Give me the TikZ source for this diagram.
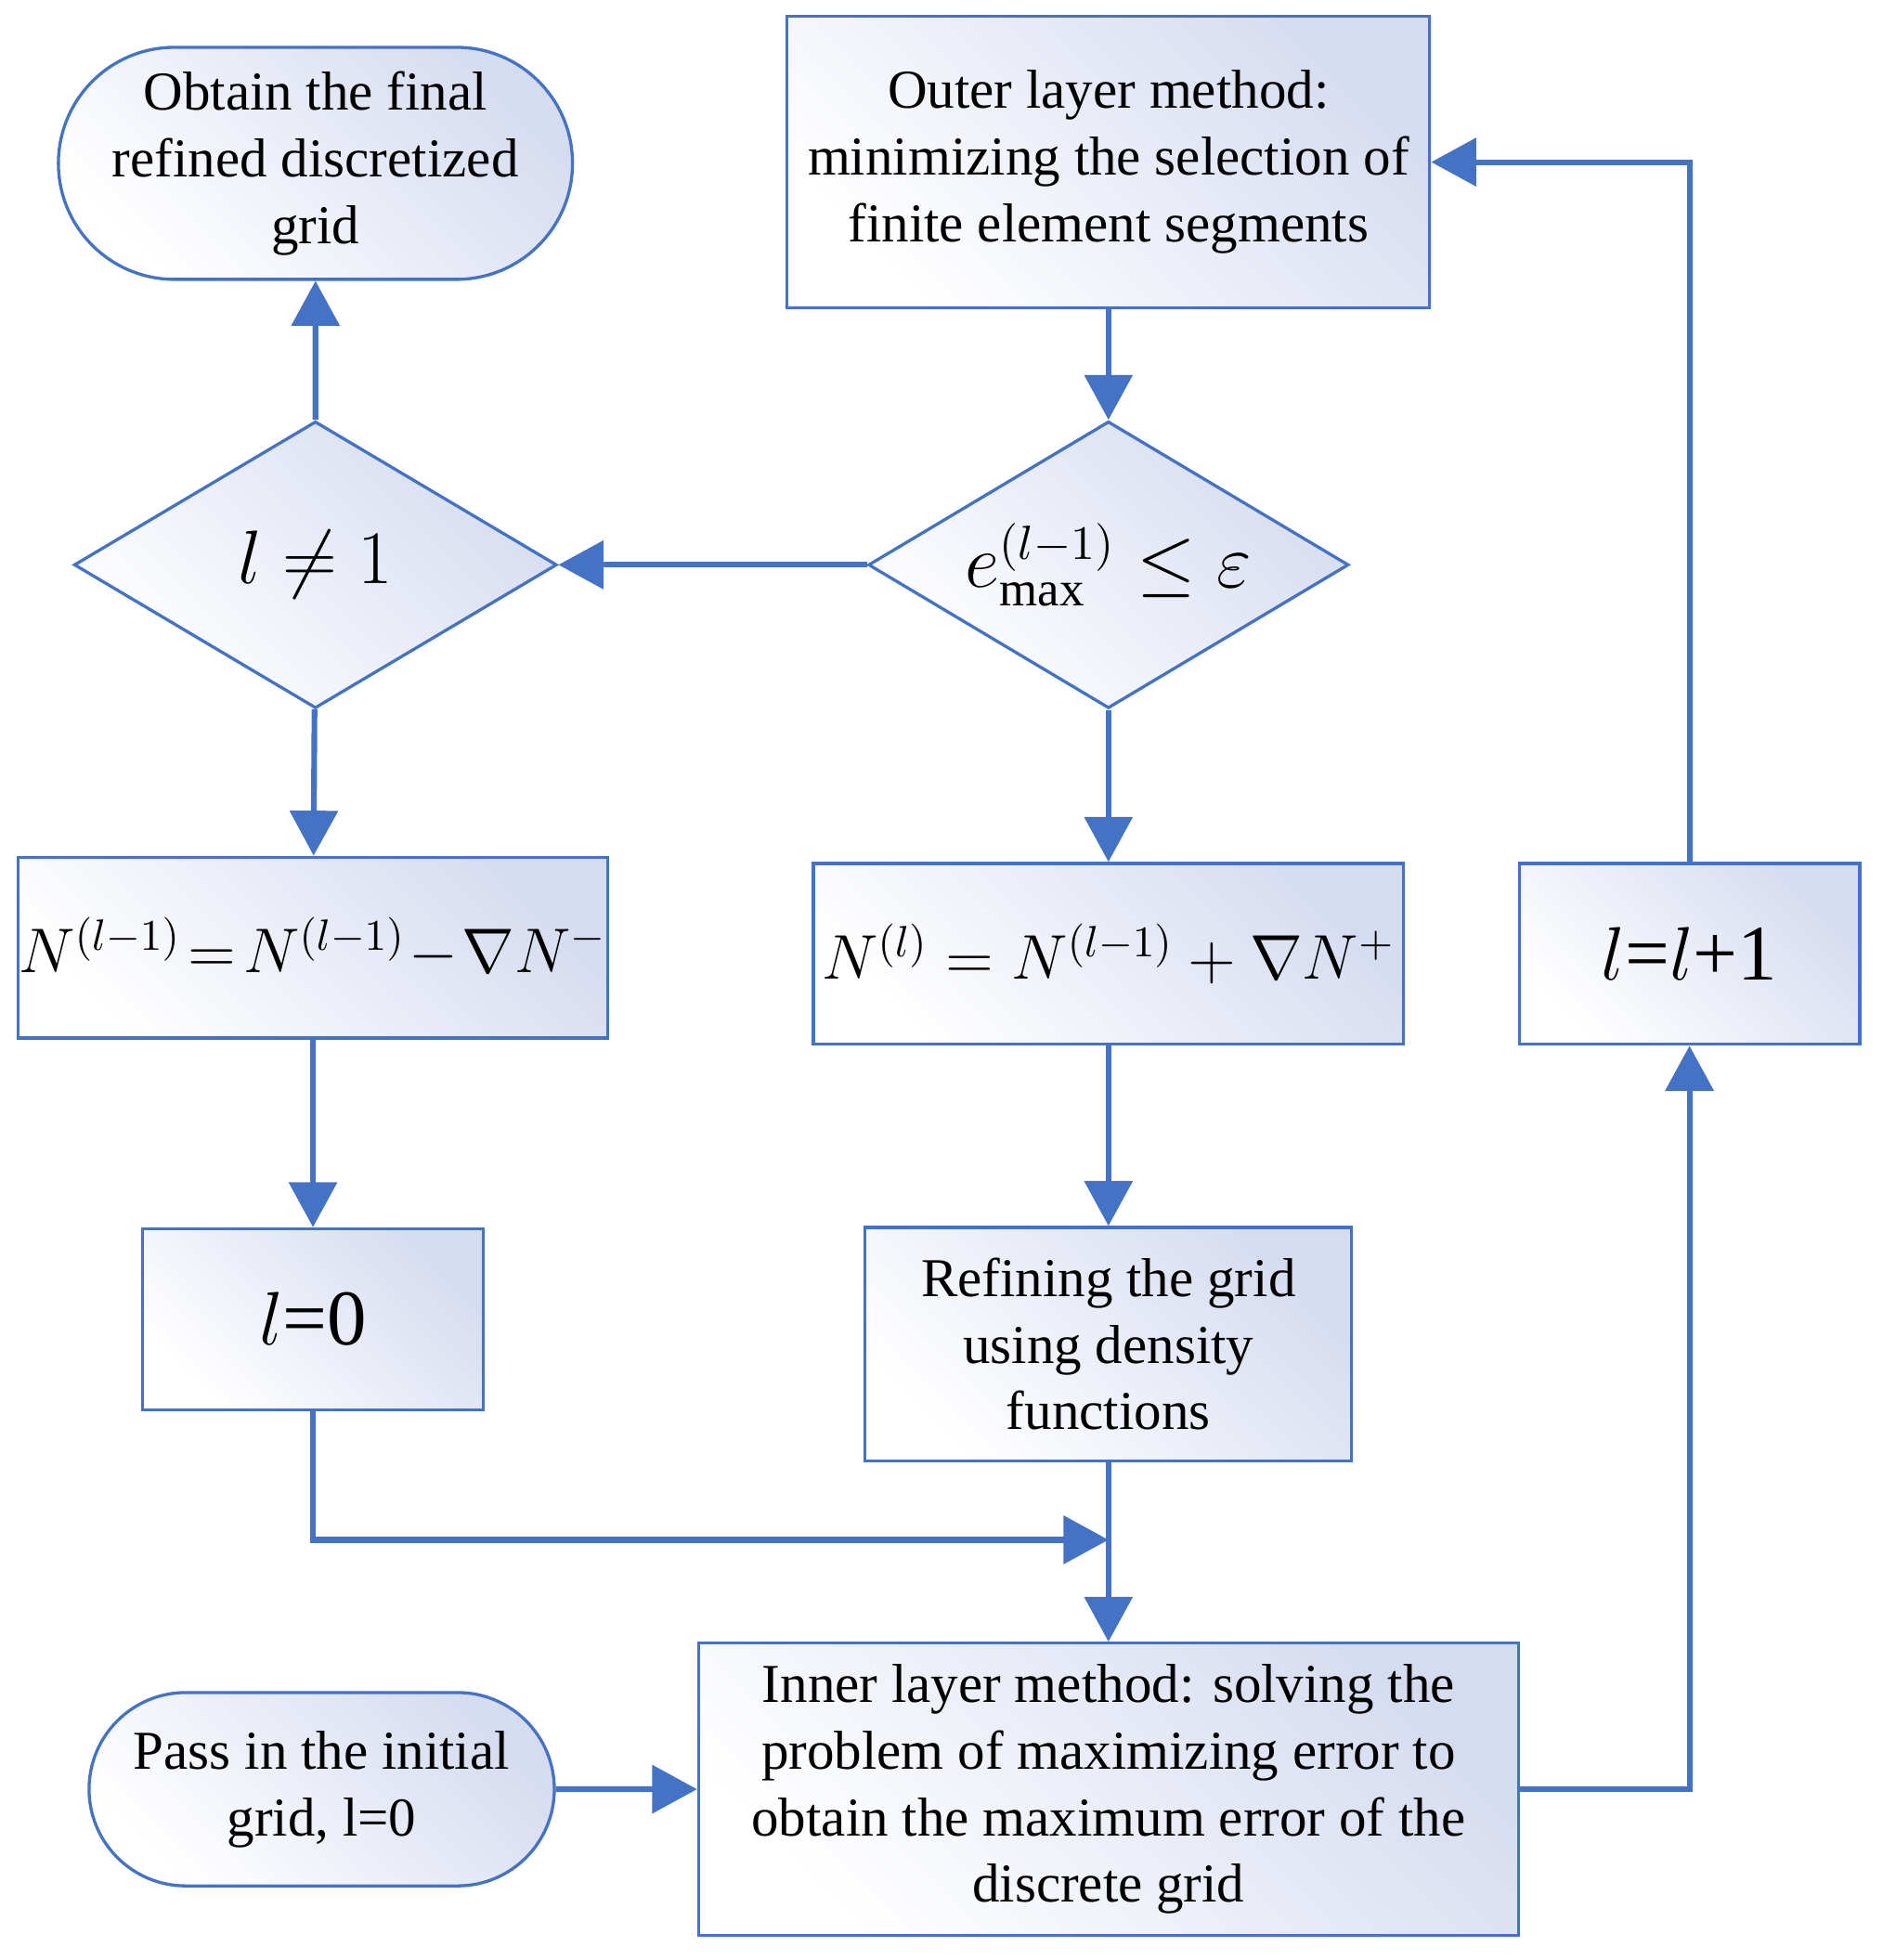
\documentclass[tikz,border=0pt]{standalone}
\usepackage{fontspec}
\setmainfont{Liberation Serif}
\usetikzlibrary{shapes.geometric,shapes.misc,arrows.meta}
\definecolor{edge}{RGB}{68,114,196}
\definecolor{fillb}{RGB}{214,220,240}
\begin{document}
\begin{tikzpicture}[x=0.01cm,y=-0.01cm,
  base/.style={draw=edge,line width=0.7pt,top color=white,bottom color=fillb,shading angle=135,align=center,inner sep=2pt,font=\fontsize{12.5}{15.2}\selectfont},
  box/.style={base,rectangle},
  term/.style={base,rounded rectangle},
  dia/.style={base,diamond,inner sep=0pt},
  arr/.style={draw=edge,line width=1.3pt,-{Triangle[length=3.6mm,width=3.8mm]}},
  ln/.style={draw=edge,line width=1.3pt}]
\useasboundingbox (0,0) rectangle (1510,1572);
\node[term,minimum width=3.87cm,minimum height=1.86cm] (obt) at (253,131) {Obtain the final\\refined discretized\\grid};
\node[box,minimum width=5.15cm,minimum height=2.34cm] (outer) at (889,130) {Outer layer method:\\minimizing the selection of\\finite element segments};
\node[dia,minimum width=3.87cm,minimum height=2.3cm] (d1) at (253,453) {\makebox[0pt]{\fontsize{17}{17}\selectfont $l\neq 1$}};
\node[dia,minimum width=3.85cm,minimum height=2.3cm] (d2) at (889,453) {\makebox[0pt]{\fontsize{16}{16}\selectfont $e_{\mathrm{max}}^{(l-1)}\leq\varepsilon$}};
\node[box,minimum width=4.73cm,minimum height=1.45cm] (nl) at (251,760) {\makebox[0pt]{\fontsize{14}{14}\selectfont $N^{(l-1)}\!=\!N^{(l-1)}\!-\!\nabla N^{-}$}};
\node[box,minimum width=4.73cm,minimum height=1.45cm] (nm) at (889,765) {\makebox[0pt]{\fontsize{14}{14}\selectfont $N^{(l)}=N^{(l-1)}+\nabla N^{+}$}};
\node[box,minimum width=2.73cm,minimum height=1.45cm] (inc) at (1355,765) {\fontsize{18}{18}\selectfont $l$=$l$+1};
\node[box,minimum width=2.73cm,minimum height=1.45cm] (l0) at (251,1058) {\fontsize{18}{18}\selectfont $l$=0};
\node[box,minimum width=3.9cm,minimum height=1.87cm] (ref) at (889,1078) {Refining the grid\\using density\\functions};
\node[term,minimum width=3.87cm,minimum height=1.55cm] (pass) at (258,1435) {Pass in the initial\\grid, l=0};
\node[box,minimum width=6.57cm,minimum height=2.34cm] (inner) at (889,1435) {Inner layer method: solving the\\problem of maximizing error to\\obtain the maximum error of the\\discrete grid};
\coordinate (m) at (889,1235);
\draw[arr] (outer) -- (d2);
\draw[arr] (d2) -- (d1);
\draw[arr] (d1) -- (obt);
\draw[arr] (d1) -- (nl);
\draw[arr] (nl) -- (l0);
\draw[arr] (l0.south) |- (m);
\draw[arr] (d2) -- (nm);
\draw[arr] (nm) -- (ref);
\draw[arr] (ref) -- (inner);
\draw[arr] (pass) -- (inner);
\draw[arr] (inner.east) -| (inc.south);
\draw[arr] (inc.north) |- (outer.east);
\end{tikzpicture}
\end{document}
